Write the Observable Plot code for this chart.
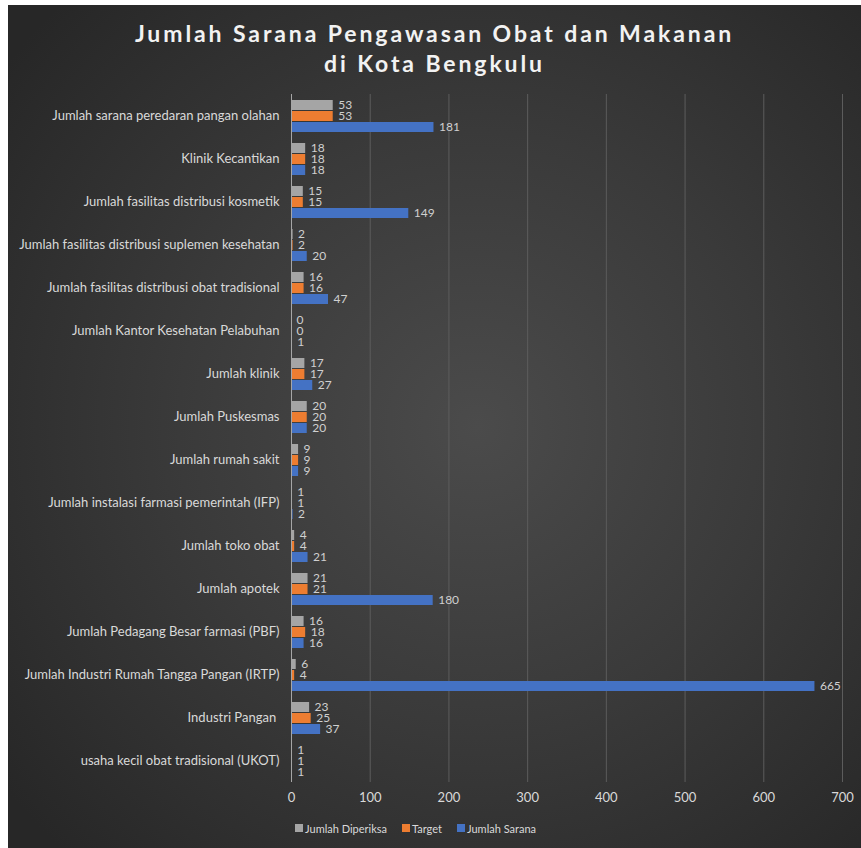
<!DOCTYPE html>
<html><head><meta charset="utf-8">
<script src="https://cdn.jsdelivr.net/npm/d3@7"></script>
<script src="https://cdn.jsdelivr.net/npm/@observablehq/plot@0.6"></script>
<style>
html,body{margin:0;padding:0;background:#fff;}
#chart{position:absolute;left:8px;top:5px;width:853px;height:843px;overflow:hidden;
  background:radial-gradient(ellipse 70% 70% at 55% 50%, #4b4b4b 0%, #3a3a3a 50%, #272727 100%);
  font-family:Lato, "Open Sans", sans-serif;}
#title{position:absolute;left:0;width:853px;top:13px;text-align:center;color:#f2f2f2;font-weight:bold;font-size:23px;letter-spacing:2.9px;line-height:30px;}
#plot{position:absolute;left:0;top:76px;}
#legend{position:absolute;top:815px;left:0;width:853px;display:flex;justify-content:flex-start;padding-left:287px;box-sizing:border-box;color:#d9d9d9;font-size:11px;align-items:center;height:16px;}
#legend .item{display:flex;align-items:center;margin-right:15px;}
#legend .sw{width:8px;height:8px;margin-right:2px;display:inline-block;}
</style>
</head><body>
<div id="chart">
  <div id="title">Jumlah Sarana Pengawasan Obat dan Makanan<br>di Kota Bengkulu</div>
  <div id="plot"></div>
  <div id="legend"></div>
</div>
<script>
const categories = [
  "Jumlah sarana peredaran pangan olahan",
  "Klinik Kecantikan",
  "Jumlah fasilitas distribusi kosmetik",
  "Jumlah fasilitas distribusi suplemen kesehatan",
  "Jumlah fasilitas distribusi obat tradisional",
  "Jumlah Kantor Kesehatan Pelabuhan",
  "Jumlah klinik",
  "Jumlah Puskesmas",
  "Jumlah rumah sakit",
  "Jumlah instalasi farmasi pemerintah (IFP)",
  "Jumlah toko obat",
  "Jumlah apotek",
  "Jumlah Pedagang Besar farmasi (PBF)",
  "Jumlah Industri Rumah Tangga Pangan (IRTP)",
  "Industri Pangan ",
  "usaha kecil obat tradisional (UKOT)"
];
const jumlahDiperiksa = [53, 18, 15, 2, 16, 0, 17, 20, 9, 1, 4, 21, 16, 6, 23, 1];
const target          = [53, 18, 15, 2, 16, 0, 17, 20, 9, 1, 4, 21, 18, 4, 25, 1];
const jumlahSarana    = [181, 18, 149, 20, 47, 1, 27, 20, 9, 2, 21, 180, 16, 665, 37, 1];
const seriesNames = ["Jumlah Diperiksa", "Target", "Jumlah Sarana"];
const seriesColors = ["#a5a5a5", "#ed7d31", "#4472c4"];
const xTicks = [0, 100, 200, 300, 400, 500, 600, 700];

const seriesValues = [jumlahDiperiksa, target, jumlahSarana];
const table = [];
categories.forEach((c, i) => {
  seriesNames.forEach((s, j) => table.push({category: c, series: s, value: seriesValues[j][i]}));
});

const chart = Plot.plot({
  width: 853,
  height: 738,
  marginLeft: 283,
  marginRight: 19,
  marginTop: 5,
  marginBottom: 30,
  style: {background: "transparent", color: "#d9d9d9", fontSize: "13px", fontFamily: "Lato, 'Open Sans', sans-serif"},
  x: {domain: [0, 700], ticks: xTicks, tickSize: 0, tickPadding: 10, label: null},
  y: {axis: null, domain: seriesNames, paddingInner: 0.1, paddingOuter: 0.45},
  fy: {domain: categories, axis: "left", label: null, tickSize: 0, tickPadding: 12, padding: 0},
  color: {domain: seriesNames, range: seriesColors},
  marks: [
    Plot.gridX(xTicks, {stroke: "#5c5c5c", strokeOpacity: 1, strokeWidth: 1}),
    Plot.barX(table, {x: "value", y: "series", fy: "category", fill: "series"}),
    Plot.ruleX([0], {stroke: "#a6a6a6", strokeWidth: 1}),
    Plot.text(table, {x: "value", y: "series", fy: "category", text: d => String(d.value), dx: 5, textAnchor: "start", fill: "#d0d0d0", fontSize: 12})
  ]
});
document.getElementById("plot").appendChild(chart);

const legend = document.getElementById("legend");
seriesNames.forEach((s, i) => {
  const it = document.createElement("span");
  it.className = "item";
  const sw = document.createElement("span");
  sw.className = "sw";
  sw.style.background = seriesColors[i];
  it.appendChild(sw);
  it.appendChild(document.createTextNode(s));
  legend.appendChild(it);
});
</script>
</body></html>
